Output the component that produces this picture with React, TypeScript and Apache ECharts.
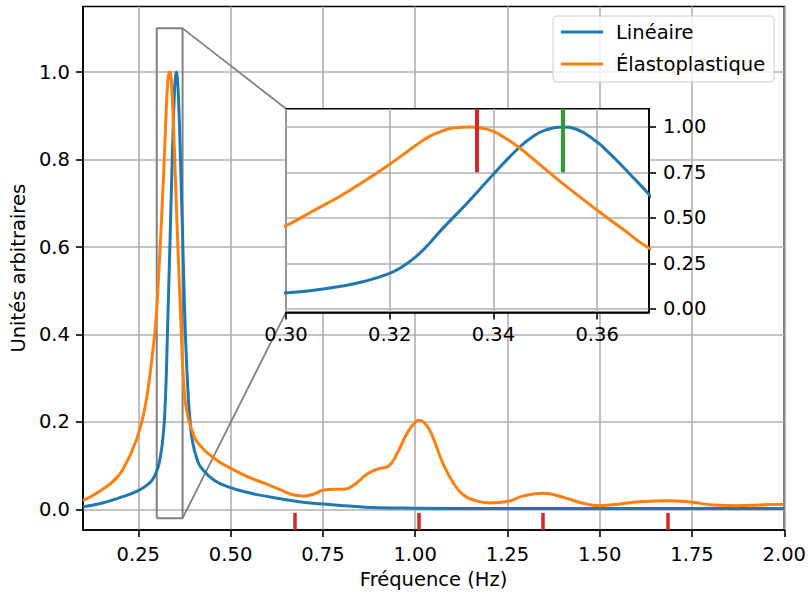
import React, { useEffect, useRef } from 'react';
import * as echarts from 'echarts';

// Frequency (Hz), normalised amplitude
const LINEAR_POINTS: [number, number][] = [
  [0.10, 0.006], [0.15, 0.014], [0.20, 0.027], [0.25, 0.043], [0.28, 0.060],
  [0.29, 0.070], [0.300, 0.088], [0.305, 0.101], [0.310, 0.121], [0.315, 0.150],
  [0.320, 0.195], [0.3225, 0.232], [0.325, 0.285], [0.3275, 0.355], [0.330, 0.435],
  [0.335, 0.583], [0.340, 0.740], [0.345, 0.888], [0.3475, 0.945], [0.350, 0.982],
  [0.3533, 1.0], [0.356, 0.987], [0.3598, 0.921], [0.362, 0.865], [0.3646, 0.792],
  [0.367, 0.720], [0.3695, 0.645], [0.375, 0.47], [0.380, 0.35], [0.385, 0.265],
  [0.390, 0.205], [0.397, 0.155], [0.410, 0.113], [0.420, 0.096], [0.4556, 0.067],
  [0.500, 0.050], [0.550, 0.038], [0.591, 0.031], [0.681, 0.018], [0.751, 0.0126],
  [0.800, 0.009], [0.850, 0.006], [0.900, 0.004], [1.000, 0.003], [1.200, 0.002],
  [1.500, 0.002], [2.000, 0.002],
];

const ELASTO_POINTS: [number, number][] = [
  [0.10, 0.020], [0.15, 0.044], [0.19, 0.071], [0.215, 0.102], [0.238, 0.144],
  [0.251, 0.175], [0.265, 0.220], [0.278, 0.285], [0.289, 0.360], [0.295, 0.405],
  [0.300, 0.457], [0.305, 0.535], [0.310, 0.612], [0.315, 0.700], [0.320, 0.795],
  [0.3225, 0.846], [0.325, 0.898], [0.3275, 0.945], [0.330, 0.977], [0.3325, 0.995],
  [0.3355, 1.0], [0.338, 0.992], [0.340, 0.975], [0.3425, 0.935], [0.345, 0.885],
  [0.3475, 0.8275], [0.350, 0.7675], [0.355, 0.652], [0.360, 0.542], [0.365, 0.437],
  [0.3695, 0.342], [0.375, 0.265], [0.380, 0.232], [0.388, 0.200], [0.398, 0.175],
  [0.4107, 0.153], [0.4556, 0.117], [0.5007, 0.094], [0.5458, 0.075], [0.591, 0.060],
  [0.636, 0.0446], [0.672, 0.033], [0.699, 0.031], [0.726, 0.0354], [0.753, 0.0446],
  [0.780, 0.046], [0.807, 0.046], [0.834, 0.056], [0.870, 0.081], [0.897, 0.092],
  [0.928, 0.0994], [0.951, 0.128], [0.978, 0.174], [1.0006, 0.200], [1.012, 0.204],
  [1.024, 0.199], [1.040, 0.180], [1.0546, 0.151], [1.077, 0.102], [1.104, 0.060],
  [1.131, 0.033], [1.160, 0.021], [1.2033, 0.015], [1.25, 0.018], [1.293, 0.031],
  [1.347, 0.037], [1.401, 0.028], [1.455, 0.014], [1.500, 0.0087], [1.5545, 0.0126],
  [1.617, 0.018], [1.681, 0.020], [1.75, 0.0165], [1.807, 0.0103], [1.870, 0.0087],
  [1.933, 0.0103], [2.0, 0.012],
];

const X_TICKS = [0.25, 0.5, 0.75, 1.0, 1.25, 1.5, 1.75, 2.0];
const Y_TICKS = [0.0, 0.2, 0.4, 0.6, 0.8, 1.0];
const INSET_X_TICKS = [0.30, 0.32, 0.34, 0.36];
const INSET_Y_TICKS = [0.0, 0.25, 0.5, 0.75, 1.0];

const MAIN_X_RANGE = [0.1, 2.0];
const MAIN_Y_RANGE = [-0.047, 1.15];
const INSET_X_RANGE = [0.30, 0.37];
const INSET_Y_RANGE = [-0.02, 1.1];

const HARMONICS = [0.673, 1.010, 1.347, 1.683];
const HARMONIC_TOP = -0.008;
const PEAK_ELASTO = 0.3367;
const PEAK_LINEAR = 0.3533;
const PEAK_MARK_BOTTOM = 0.75;

const BLUE = '#1f77b4';
const ORANGE = '#ff7f0e';
const RED = '#d62728';
const GREEN = '#2ca02c';
const GRID_COLOR = '#b0b0b0';
const FONT = 'DejaVu Sans';
const FS = 19.5;
const SMOOTH = 0.5;

const textStyle = { fontFamily: FONT, fontSize: FS, color: '#000' };

function axis(extra: any, ticks: number[], digits: number, margin: number) {
  return {
    type: 'value',
    axisLine: { show: true, onZero: false, lineStyle: { color: '#000', width: 1.6 } },
    axisTick: { show: true, length: 7, customValues: ticks, lineStyle: { color: '#000', width: 1.6 } },
    axisLabel: {
      ...textStyle,
      customValues: ticks,
      margin,
      formatter: (v: number) => v.toFixed(digits),
    },
    splitLine: { show: true, lineStyle: { color: GRID_COLOR, width: 1.6 } },
    ...extra,
  };
}

export default function App() {
  const ref = useRef<HTMLDivElement>(null);
  useEffect(() => {
    if (!ref.current) return;
    const chart = echarts.init(ref.current, null, { renderer: 'svg' });
    const rect: [number, number][] = [
      [INSET_X_RANGE[0], INSET_Y_RANGE[0]],
      [INSET_X_RANGE[0], INSET_Y_RANGE[1]],
      [INSET_X_RANGE[1], INSET_Y_RANGE[1]],
      [INSET_X_RANGE[1], INSET_Y_RANGE[0]],
      [INSET_X_RANGE[0], INSET_Y_RANGE[0]],
    ];
    const option: any = {
      animation: false,
      backgroundColor: '#fff',
      grid: [
        { left: 81.7, top: 6.5, width: 703.3, height: 523.5, show: true, borderColor: '#000', borderWidth: 1.6, backgroundColor: 'transparent', z: 0 },
        { left: 286, top: 108.7, width: 363, height: 203.7, show: true, borderColor: '#000', borderWidth: 1.6, backgroundColor: '#fff', z: 3 },
      ],
      xAxis: [
        axis({
          gridIndex: 0, min: MAIN_X_RANGE[0], max: MAIN_X_RANGE[1],
          name: 'Fréquence (Hz)', nameLocation: 'middle', nameGap: 39,
          nameTextStyle: textStyle, z: 0,
        }, X_TICKS, 2, 14),
        axis({ gridIndex: 1, min: INSET_X_RANGE[0], max: INSET_X_RANGE[1], z: 3 }, INSET_X_TICKS, 2, 12),
      ],
      yAxis: [
        axis({
          gridIndex: 0, min: MAIN_Y_RANGE[0], max: MAIN_Y_RANGE[1],
          name: 'Unités arbitraires', nameLocation: 'middle', nameGap: 52,
          nameTextStyle: textStyle, z: 0,
        }, Y_TICKS, 1, 13),
        axis({ gridIndex: 1, position: 'right', min: INSET_Y_RANGE[0], max: INSET_Y_RANGE[1], z: 3 }, INSET_Y_TICKS, 2, 14),
      ],
      legend: {
        data: ['Linéaire', 'Élastoplastique'],
        orient: 'vertical',
        left: 553, top: 16,
        icon: 'rect', itemWidth: 42, itemHeight: 3, itemGap: 12,
        padding: [6, 9, 8, 8],
        backgroundColor: 'rgba(255,255,255,0.8)',
        borderColor: '#cccccc', borderWidth: 1, borderRadius: 4,
        textStyle: { ...textStyle, lineHeight: 20, padding: [0, 0, 0, 8] },
      },
      series: [
        {
          name: 'zoom-box', type: 'line', xAxisIndex: 0, yAxisIndex: 0, data: rect,
          showSymbol: false, symbol: 'none', lineStyle: { color: '#808080', width: 2 }, z: 1, silent: true,
        },
        {
          name: 'Linéaire', type: 'line', xAxisIndex: 0, yAxisIndex: 0, data: LINEAR_POINTS,
          smooth: SMOOTH, showSymbol: false, symbol: 'none', color: BLUE, lineStyle: { color: BLUE, width: 3 }, z: 2,
        },
        {
          name: 'Élastoplastique', type: 'line', xAxisIndex: 0, yAxisIndex: 0, data: ELASTO_POINTS,
          smooth: SMOOTH, showSymbol: false, symbol: 'none', color: ORANGE, lineStyle: { color: ORANGE, width: 3 }, z: 2,
          markLine: {
            silent: true, symbol: ['none', 'none'], animation: false,
            label: { show: false },
            lineStyle: { color: RED, width: 3.5, type: 'solid' },
            data: HARMONICS.map((h) => [{ coord: [h, HARMONIC_TOP] }, { coord: [h, MAIN_Y_RANGE[0]] }]),
          },
        },
        {
          name: 'Linéaire (zoom)', type: 'line', xAxisIndex: 1, yAxisIndex: 1, data: LINEAR_POINTS,
          smooth: SMOOTH, showSymbol: false, symbol: 'none', lineStyle: { color: BLUE, width: 3 }, z: 4, clip: true,
        },
        {
          name: 'Élastoplastique (zoom)', type: 'line', xAxisIndex: 1, yAxisIndex: 1, data: ELASTO_POINTS,
          smooth: SMOOTH, showSymbol: false, symbol: 'none', lineStyle: { color: ORANGE, width: 3 }, z: 4, clip: true,
          markLine: {
            silent: true, symbol: ['none', 'none'], animation: false,
            label: { show: false },
            data: [
              [{ coord: [PEAK_ELASTO, PEAK_MARK_BOTTOM], lineStyle: { color: RED, width: 4, type: 'solid' } }, { coord: [PEAK_ELASTO, INSET_Y_RANGE[1]] }],
              [{ coord: [PEAK_LINEAR, PEAK_MARK_BOTTOM], lineStyle: { color: GREEN, width: 4, type: 'solid' } }, { coord: [PEAK_LINEAR, INSET_Y_RANGE[1]] }],
            ],
          },
        },
      ],
    };
    chart.setOption(option);
    const a = chart.convertToPixel({ gridIndex: 0 } as any, [INSET_X_RANGE[1], INSET_Y_RANGE[1]]) as number[];
    const b = chart.convertToPixel({ gridIndex: 1 } as any, [INSET_X_RANGE[0], INSET_Y_RANGE[1]]) as number[];
    const c = chart.convertToPixel({ gridIndex: 0 } as any, [INSET_X_RANGE[1], INSET_Y_RANGE[0]]) as number[];
    const d = chart.convertToPixel({ gridIndex: 1 } as any, [INSET_X_RANGE[0], INSET_Y_RANGE[0]]) as number[];
    chart.setOption({
      graphic: [
        { type: 'line', shape: { x1: a[0], y1: a[1], x2: b[0], y2: b[1] }, style: { stroke: '#808080', lineWidth: 1.8 }, z: 2, silent: true },
        { type: 'line', shape: { x1: c[0], y1: c[1], x2: d[0], y2: d[1] }, style: { stroke: '#808080', lineWidth: 1.8 }, z: 2, silent: true },
      ],
    });
    return () => chart.dispose();
  }, []);
  return <div ref={ref} style={{ position: 'fixed', left: 0, top: 0, width: 809, height: 594 }} />;
}
